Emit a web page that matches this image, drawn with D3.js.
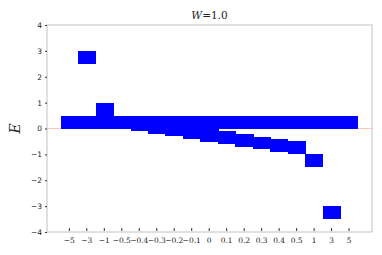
<!DOCTYPE html>
<html>
<head>
<meta charset="utf-8">
<script src="https://cdn.jsdelivr.net/npm/d3@7"></script>
<style>
  body { margin: 0; background: #fff; }
</style>
</head>
<body>
<div id="chart"></div>
<script>
// categories on x (W values), two levels per category
const categories = ["-5", "-3", "-1", "-0.5", "-0.4", "-0.3", "-0.2", "-0.1", "0", "0.1", "0.2", "0.3", "0.4", "0.5", "1", "3", "5"];
const flatLevel = [0.25, 0.25, 0.25, 0.25, 0.25, 0.25, 0.25, 0.25, 0.25, 0.25, 0.25, 0.25, 0.25, 0.25, 0.25, 0.25, 0.25];
const movingLevel = [4.75, 2.75, 0.75, 0.25, 0.15, 0.05, -0.05, -0.15, -0.27, -0.35, -0.46, -0.56, -0.66, -0.75, -1.25, -3.25, -5.25];
const yTicks = [-4, -3, -2, -1, 0, 1, 2, 3, 4];
const boxHeight = 0.5;

const width = 382, height = 255;
const margin = { top: 25, right: 10, bottom: 23, left: 47 };
const w = width - margin.left - margin.right;
const h = height - margin.top - margin.bottom;

const svg = d3.select("#chart").append("svg").attr("width", width).attr("height", height);
const g = svg.append("g").attr("transform", `translate(${margin.left},${margin.top})`);

g.append("defs").append("clipPath").attr("id", "clip")
  .append("rect").attr("width", w).attr("height", h);

// band scale, ticks centred
const x = d3.scaleBand().domain(categories).range([13.6, w - 14.2]).padding(0);
const y = d3.scaleLinear().domain([-4, 4]).range([h, 0]);

// zero line
g.append("line")
  .attr("x1", 0).attr("x2", w)
  .attr("y1", y(0)).attr("y2", y(0))
  .attr("stroke", "#ffc4c4").attr("stroke-width", 1);

const boxes = [];
categories.forEach((c, i) => {
  boxes.push({ c, e: flatLevel[i] });
  boxes.push({ c, e: movingLevel[i] });
});

g.append("g").attr("clip-path", "url(#clip)")
  .attr("shape-rendering", "crispEdges")
  .selectAll("rect")
  .data(boxes)
  .enter()
  .append("rect")
  .attr("x", (d) => x(d.c))
  .attr("y", (d) => y(d.e + boxHeight / 2))
  .attr("width", x.bandwidth() + 0.6)
  .attr("height", (d) => y(d.e - boxHeight / 2) - y(d.e + boxHeight / 2))
  .attr("fill", "#0000ff");

// frame
g.append("rect")
  .attr("width", w).attr("height", h)
  .attr("fill", "none")
  .attr("stroke", "#cccccc")
  .attr("stroke-width", 1.2);

// y axis
const yAxis = d3.axisLeft(y).tickValues(yTicks).tickSize(2).tickPadding(3)
  .tickFormat((d) => (d < 0 ? "\u2212" + Math.abs(d) : d));
const yg = g.append("g").call(yAxis);
yg.select(".domain").remove();
yg.selectAll("line").attr("stroke", "#333");
yg.selectAll("text").attr("font-family", "DejaVu Sans").attr("font-size", 7.5).attr("fill", "#222");

// x axis, ticks pointing inward
const xAxis = d3.axisBottom(x).tickSize(-3).tickPadding(7)
  .tickFormat((d) => d.replace("-", "\u2212"));
const xg = g.append("g").attr("transform", `translate(0,${h - 1})`).call(xAxis);
xg.select(".domain").remove();
xg.selectAll("line").attr("stroke", "#333");
xg.selectAll("text").attr("font-family", "DejaVu Serif").attr("font-size", 7.5).attr("fill", "#222");

// title
const title = svg.append("text")
  .attr("x", margin.left + w / 2).attr("y", 19)
  .attr("text-anchor", "middle")
  .attr("font-family", "DejaVu Serif").attr("font-size", 10.5).attr("fill", "#222");
title.append("tspan").attr("font-style", "italic").text("W");
title.append("tspan").text("=1.0");

// y label
svg.append("text")
  .attr("transform", `translate(20,${margin.top + y(0)}) rotate(-90)`)
  .attr("text-anchor", "middle")
  .attr("font-family", "DejaVu Serif").attr("font-style", "italic")
  .attr("font-size", 14).attr("fill", "#222")
  .text("E");
</script>
</body>
</html>
